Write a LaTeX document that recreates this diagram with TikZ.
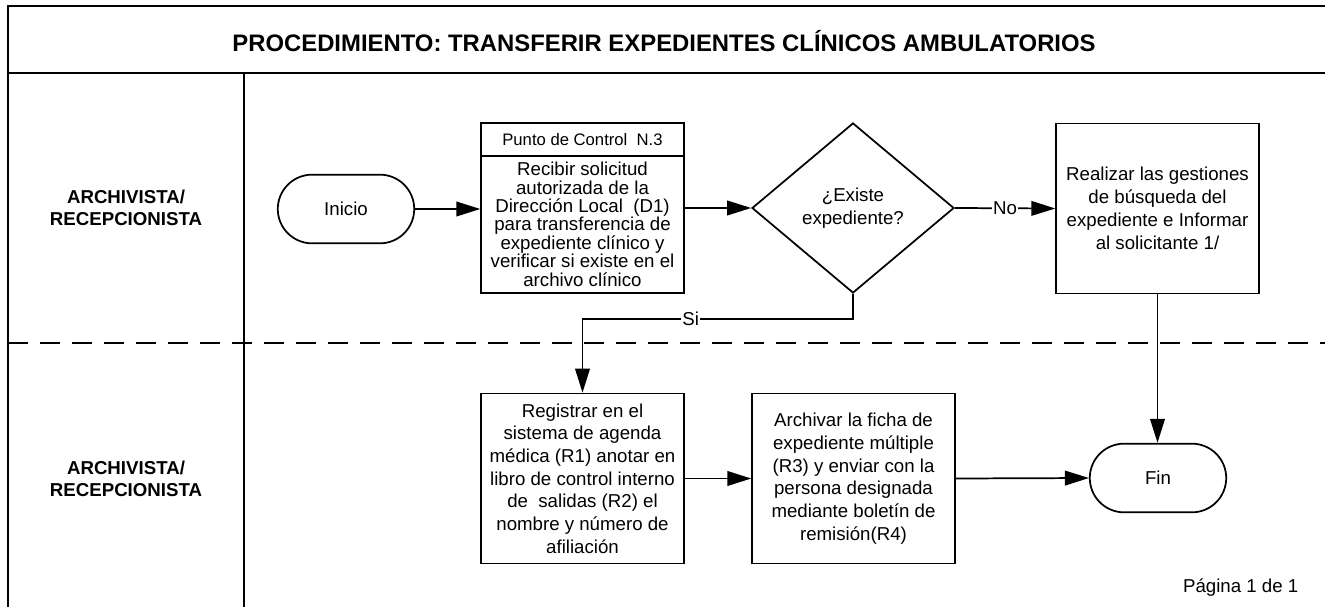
\documentclass[tikz,border=0pt]{standalone}
\usepackage{fontspec}
\setmainfont{Liberation Sans}
\usetikzlibrary{
  arrows.meta,
  shapes.geometric,
  shapes.misc,
  calc
}

\begin{document}
\begin{tikzpicture}[x=0.75pt, y=-0.75pt,
    marco/.style={line width=1.6pt},
    caja/.style={draw, line width=1.3pt, minimum width=152pt, minimum height=127.5pt,
                 inner sep=0pt, align=center, font=\fontsize{14}{17}\selectfont},
    terminal/.style={draw, rounded rectangle, line width=1.3pt, minimum width=109pt,
                 minimum height=51.5pt, font=\fontsize{14}{17}\selectfont},
    decision/.style={draw, diamond, line width=1.3pt, minimum width=151.5pt,
                 minimum height=127.5pt, inner sep=0pt, align=center,
                 font=\fontsize{14}{17.25}\selectfont},
    carril/.style={align=center, font=\fontsize{14}{16.5}\selectfont\bfseries},
    flecha/.style={-{Triangle[length=18pt,width=11pt]}, line width=1.3pt},
    etiq/.style={fill=white, inner sep=1pt, font=\fontsize{14}{17}\selectfont}]
  \def\Xa{346};
  \def\Xb{582.5};
  \def\Xc{853};
  \def\Xd{1157.5};
  \def\Ya{208};
  \def\Yb{478.5};
  \useasboundingbox (0,0) rectangle (1325,607);

         % marco y carriles
         \draw[marco] (8,607) -- (8,6) -- (1325,6);
         \draw[marco] (8,73) -- (1325,73);
         \draw[marco] (244,73) -- (244,607);
         \draw[marco, dash pattern=on 15pt off 9pt] (8,343) -- (1325,343);
         \node (titulo) at (664,41) {\fontsize{17.9}{20}\selectfont\bfseries PROCEDIMIENTO: TRANSFERIR EXPEDIENTES CLÍNICOS AMBULATORIOS};
         \node[carril] (carrilA) at (126,\Ya) {ARCHIVISTA/\\RECEPCIONISTA};
         \node[carril] (carrilB) at (126,\Yb) {ARCHIVISTA/\\RECEPCIONISTA};

         % fila 1
         \node[terminal] (inicio) at (\Xa,\Ya+1) {Inicio};
         \node[caja] (punto) at (\Xb,\Ya) {};
         \node (puntohdr) at ($(punto.north)+(0,17)$) {\fontsize{12.5}{15}\selectfont Punto de Control\ \ N.3};
         \draw[line width=1.3pt] ($(punto.north west)+(0,34)$) -- ($(punto.north east)+(0,34)$);
         \node[align=center, font=\fontsize{14}{13.8}\selectfont] (puntotxt) at ($(punto.north)+(0,102)$)
           {Recibir solicitud\\autorizada de la\\Dirección Local\ \ (D1)\\para transferencia de\\expediente clínico y\\verificar si existe en el\\archivo clínico};
         \node[decision] (existe) at (\Xc,\Ya) {¿Existe\\expediente?};
         \node[caja, font=\fontsize{14}{17.25}\selectfont] (busca) at (\Xd,\Ya+0.5)
           {Realizar las gestiones\\de búsqueda del\\expediente e Informar\\al solicitante 1/};

         % fila 2
         \node[caja] (registrar) at (\Xb,\Yb)
           {Registrar en el\\sistema de agenda\\médica (R1) anotar en\\libro de control interno\\de\ \ salidas (R2) el\\nombre y número de\\afiliación};
         \node[caja] (archivar) at (\Xc+0.5,\Yb)
           {Archivar la ficha de\\expediente múltiple\\(R3) y enviar con la\\persona designada\\mediante boletín de\\remisión(R4)};
         \node[terminal] (fin) at (1158,478) {Fin};
         \node[anchor=east, font=\fontsize{14}{17}\selectfont] (pagina) at (1303,588) {Página 1 de 1};

	\draw[flecha] (inicio.east) -- (inicio.east -| punto.west);
	\draw[flecha] (punto.east) -- (existe.west);
	\draw[flecha] (existe.east) -- node[etiq] {No} (busca.west);  % no existe
	\draw[flecha] (existe.south) -- ++(0,25) -| node[etiq, pos=0.3] {Si} (registrar.north);  % si existe
	\draw[flecha] (registrar.east) -- (archivar.west);
	\draw[flecha] (archivar.east) -- (fin.west);
	\draw[flecha] (busca.south) -- (busca.south |- fin.north);
\end{tikzpicture}
\end{document}
